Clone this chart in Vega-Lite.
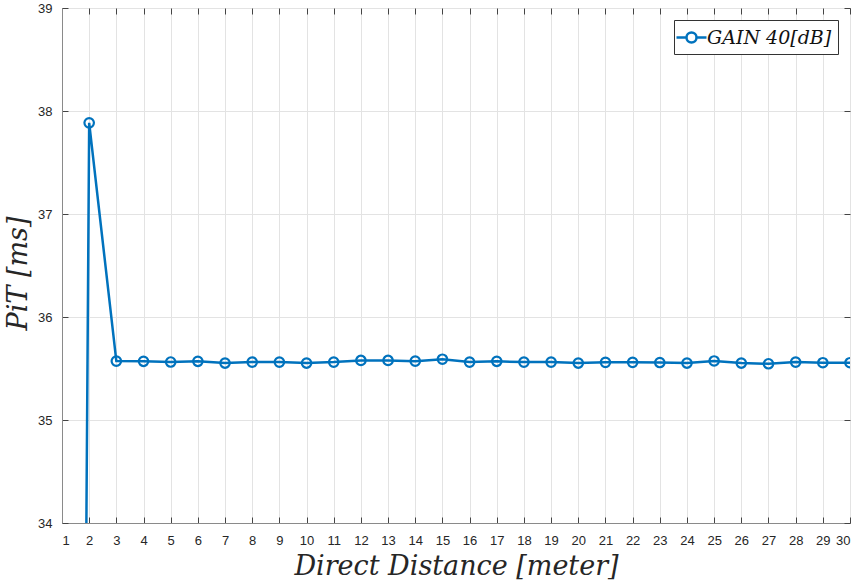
{
  "$schema": "https://vega.github.io/schema/vega-lite/v6.json",
  "width": 788,
  "height": 515,
  "autosize": "none",
  "padding": {"left": 62, "top": 8, "right": 11, "bottom": 58},
  "background": "white",
  "config": {
    "view": {"stroke": "#8a8a8a", "strokeWidth": 1},
    "axis": {
      "domainColor": "#8a8a8a",
      "tickColor": "#444",
      "gridColor": "#e3e3e3",
      "gridWidth": 1,
      "labelFont": "Liberation Sans",
      "labelFontSize": 13,
      "labelColor": "#262626",
      "titleFont": "DejaVu Serif",
      "titleFontStyle": "italic",
      "titleFontWeight": "normal",
      "titleFontSize": 27,
      "titleColor": "#262626",
      "tickSize": -6
    }
  },
  "data": {"values": [
    {"distance": 1, "pit": 0},
    {"distance": 2, "pit": 37.885},
    {"distance": 3, "pit": 35.572},
    {"distance": 4, "pit": 35.57},
    {"distance": 5, "pit": 35.563},
    {"distance": 6, "pit": 35.57},
    {"distance": 7, "pit": 35.553},
    {"distance": 8, "pit": 35.562},
    {"distance": 9, "pit": 35.562},
    {"distance": 10, "pit": 35.553},
    {"distance": 11, "pit": 35.562},
    {"distance": 12, "pit": 35.578},
    {"distance": 13, "pit": 35.578},
    {"distance": 14, "pit": 35.571},
    {"distance": 15, "pit": 35.59},
    {"distance": 16, "pit": 35.562},
    {"distance": 17, "pit": 35.57},
    {"distance": 18, "pit": 35.562},
    {"distance": 19, "pit": 35.562},
    {"distance": 20, "pit": 35.553},
    {"distance": 21, "pit": 35.56},
    {"distance": 22, "pit": 35.56},
    {"distance": 23, "pit": 35.558},
    {"distance": 24, "pit": 35.553},
    {"distance": 25, "pit": 35.573},
    {"distance": 26, "pit": 35.553},
    {"distance": 27, "pit": 35.546},
    {"distance": 28, "pit": 35.562},
    {"distance": 29, "pit": 35.556},
    {"distance": 30, "pit": 35.556}
  ]},
  "layer": [
    {
      "mark": {"type": "point", "opacity": 0, "clip": true},
      "encoding": {
        "x": {"field": "distance", "type": "quantitative",
          "scale": {"domain": [1, 30], "nice": false, "zero": false},
          "axis": {"orient": "top", "labels": false, "title": null, "grid": false, "domain": false, "values": [1,2,3,4,5,6,7,8,9,10,11,12,13,14,15,16,17,18,19,20,21,22,23,24,25,26,27,28,29,30]}},
        "y": {"field": "pit", "type": "quantitative",
          "scale": {"domain": [34, 39], "nice": false, "zero": false},
          "axis": {"orient": "right", "labels": false, "title": null, "grid": false, "domain": false, "values": [34, 35, 36, 37, 38, 39]}}
      }
    },
    {
      "mark": {"type": "line", "clip": true, "strokeWidth": 2.5},
      "encoding": {
        "x": {
          "field": "distance", "type": "quantitative",
          "scale": {"domain": [1, 30], "nice": false, "zero": false},
          "axis": {
            "orient": "bottom",
            "values": [1,2,3,4,5,6,7,8,9,10,11,12,13,14,15,16,17,18,19,20,21,22,23,24,25,26,27,28,29,30],
            "title": "Direct Distance [meter]",
            "grid": true,
            "labelPadding": 17,
            "titleX": 394,
            "titleY": 43,
            "titleBaseline": "middle",
            "titleAlign": "center"
          }
        },
        "y": {
          "field": "pit", "type": "quantitative",
          "scale": {"domain": [34, 39], "nice": false, "zero": false},
          "axis": {
            "orient": "left",
            "values": [34, 35, 36, 37, 38, 39],
            "title": "PiT [ms]",
            "grid": true,
            "labelPadding": 16,
            "titleX": -44,
            "titleY": 265,
            "titleAngle": -90,
            "titleBaseline": "middle",
            "titleAlign": "center"
          }
        },
        "color": {
          "datum": "GAIN 40[dB]",
          "type": "nominal",
          "scale": {"range": ["#0072BD"]},
          "legend": {
            "title": null,
            "orient": "top-right",
            "offset": 12,
            "padding": 6,
            "strokeColor": "#333",
            "fillColor": "white",
            "labelFont": "DejaVu Serif",
            "labelFontStyle": "italic",
            "labelFontSize": 19,
            "labelColor": "#111",
            "symbolType": "M-1.5,0H-0.5M0.5,0H1.5M-0.5,0A0.5,0.5 0 1,0 0.5,0A0.5,0.5 0 1,0 -0.5,0",
            "symbolSize": 400,
            "symbolStrokeWidth": 2.5,
            "symbolFillColor": "transparent",
            "symbolStrokeColor": "#0072BD"
          }
        }
      }
    },
    {
      "mark": {"type": "point", "clip": true, "filled": false, "size": 90, "strokeWidth": 2.2, "opacity": 1},
      "encoding": {
        "x": {"field": "distance", "type": "quantitative", "scale": {"domain": [1, 30], "nice": false, "zero": false}, "axis": null},
        "y": {"field": "pit", "type": "quantitative", "scale": {"domain": [34, 39], "nice": false, "zero": false}, "axis": null},
        "color": {"datum": "GAIN 40[dB]", "type": "nominal"}
      }
    }
  ],
  "resolve": {"axis": {"x": "independent", "y": "independent"}}
}
